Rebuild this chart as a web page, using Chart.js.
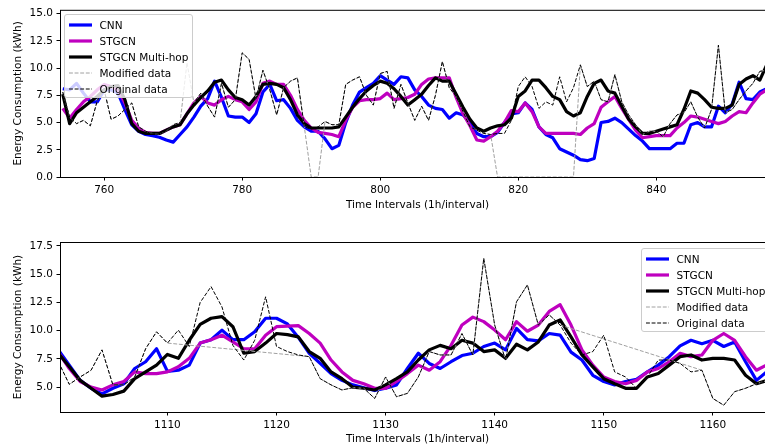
<!DOCTYPE html>
<html lang="en">
<head>
<meta charset="UTF-8">
<title>Energy consumption forecasts</title>
<script src="https://cdn.jsdelivr.net/npm/chart.js"></script>
<style>
  html, body { margin: 0; padding: 0; width: 765px; height: 448px; overflow: hidden; background: #fff; }
  .panel { position: absolute; left: 0; }
  #topPanel { top: 0; }
  #bottomPanel { top: 220px; }
  .legend {
    position: absolute; box-sizing: border-box; height: 84px; padding-top: 1.5px;
    background: rgba(255, 255, 255, 0.8); border: 1px solid #ccc; border-radius: 3px;
    font: 10.5px "DejaVu Sans", sans-serif; color: #000; white-space: nowrap; z-index: 2;
  }
  .legend .row { height: 16px; display: flex; align-items: center; }
  .legend svg { margin-left: 4px; margin-right: 7.5px; flex: none; }
  #topLegend { left: 64px; top: 14px; width: 129px; }
  #bottomLegend { left: 641px; top: 248px; width: 140px; }
</style>
</head>
<body>
<div class="panel" id="topPanel"><canvas id="topChart" width="775" height="220"></canvas></div>
<div class="panel" id="bottomPanel"><canvas id="bottomChart" width="775" height="228"></canvas></div>
<div class="legend" id="topLegend"></div>
<div class="legend" id="bottomLegend"></div>

<script>
// ---- data ----
function hourRange(first, last) {
    const out = [];
    for (let h = first; h <= last; h++) out.push(h);
    return out;
}

// upper panel: hours 754..856
const topHours = hourRange(754, 856);
const topCnn = [
    8.1, 8.0, 8.6, 7.7, 6.9, 6.9, 8.0, 8.0, 7.7, 6.2,
    4.8, 4.2, 3.9, 3.8, 3.65, 3.4, 3.2, 3.9, 4.6, 5.5,
    6.5, 7.2, 8.8, 7.3, 5.6, 5.5, 5.5, 5.0, 5.8, 7.8,
    8.5, 7.0, 7.1, 6.3, 5.2, 4.6, 4.2, 4.2, 3.5, 2.6,
    2.9, 5.0, 6.6, 7.8, 8.2, 8.6, 9.3, 8.9, 8.5, 9.2,
    9.1, 8.0, 7.4, 6.6, 6.3, 6.2, 5.4, 5.9, 5.7, 5.0,
    4.0, 3.7, 3.7, 4.1, 5.0, 5.8, 5.9, 6.8, 6.2, 4.6,
    3.9, 3.6, 2.6, 2.3, 2.0, 1.6, 1.5, 1.7, 5.0, 5.1,
    5.4, 5.0, 4.4, 3.8, 3.3, 2.6, 2.6, 2.6, 2.6, 3.1,
    3.1, 4.8, 5.0, 4.6, 4.6, 6.5, 5.9, 6.7, 8.7, 7.2,
    7.1, 7.8, 8.1
];
const topStgcn = [
    6.3, 5.4, 6.2, 6.9, 7.4, 8.0, 8.5, 8.3, 8.0, 6.8,
    5.2, 4.5, 4.1, 4.0, 4.0, 4.3, 4.6, 4.8, 5.8, 6.8,
    7.4, 6.8, 6.6, 7.1, 7.4, 7.1, 6.9, 6.2, 6.9, 8.6,
    8.8, 8.5, 8.5, 7.5, 6.2, 5.2, 4.5, 4.1, 4.0, 3.9,
    3.7, 5.2, 6.4, 7.0, 7.1, 7.1, 7.2, 7.7, 7.1, 7.2,
    7.3, 7.6, 8.5, 9.0, 9.1, 9.1, 9.1, 7.3, 5.8, 4.7,
    3.4, 3.3, 3.7, 4.2, 5.0, 6.1, 6.0, 6.8, 6.0, 4.6,
    4.0, 4.0, 4.0, 4.0, 4.0, 3.9, 4.5, 4.9, 6.4, 6.9,
    7.4, 6.3, 5.3, 4.3, 3.6, 3.7, 3.8, 3.8, 3.8, 4.5,
    5.0, 5.6, 5.5, 5.3, 5.1, 4.9, 5.1, 5.6, 6.0, 5.9,
    6.8, 7.6, 8.0
];
const topMultiHop = [
    7.6, 4.9, 5.9, 6.4, 6.9, 7.4, 8.0, 8.3, 8.4, 7.1,
    4.9, 4.2, 4.0, 4.0, 4.0, 4.3, 4.6, 4.8, 5.8, 6.6,
    7.3, 7.9, 8.7, 8.9, 8.0, 7.3, 7.1, 6.6, 7.4, 8.5,
    8.6, 8.5, 8.2, 7.1, 5.7, 4.9, 4.5, 4.5, 4.5, 4.5,
    4.6, 5.5, 6.4, 7.2, 7.9, 8.4, 8.8, 8.6, 8.1, 7.4,
    6.6, 7.1, 7.6, 8.4, 9.1, 8.8, 8.8, 7.6, 6.4, 5.3,
    4.5, 4.2, 4.5, 4.7, 4.8, 5.4, 7.4, 7.9, 8.9, 8.9,
    8.2, 7.4, 7.1, 6.0, 5.6, 5.9, 7.4, 8.6, 8.9, 7.9,
    7.7, 6.5, 5.3, 4.6, 4.0, 4.0, 4.2, 4.4, 4.6, 4.8,
    6.2, 7.9, 7.7, 7.1, 6.4, 6.3, 6.3, 6.6, 8.5, 9.0,
    9.3, 8.9, 10.3
];
const topModified = [
    7.8, 5.5, 4.9, 5.2, 4.7, 7.0, 8.0, 5.3, 5.6, 6.2,
    6.8, 4.6, 4.2, 4.0, 3.9, 4.2, 4.8, 5.0, 10.5, 6.8,
    7.7, 6.5, 5.5, 8.6, 6.4, 7.1, 11.4, 10.8, 7.2, 9.8,
    8.0, 5.7, 8.2, 8.8, 9.1, 4.6, 0, 0, 5.1, 4.8,
    4.8, 8.5, 8.9, 9.2, 7.5, 6.6, 9.5, 9.7, 6.3, 8.5,
    6.8, 5.2, 6.5, 5.2, 7.5, 10.6, 8.2, 7.4, 6.0, 4.6,
    4.3, 4.0, 3.9, 0, 0, 0, 0, 0, 0, 0,
    0, 0, 0, 0, 0, 10.3, 8.3, 8.8, 7.1, 6.9,
    9.4, 6.9, 5.7, 4.8, 3.9, 4.2, 4.2, 3.7, 4.9, 5.7,
    5.9, 6.9, 5.5, 4.5, 6.2, 12.1, 5.9, 6.2, 7.1, 7.9,
    8.6, 9.7, 9.8
];
const topOriginal = [
    7.8, 5.5, 4.9, 5.2, 4.7, 7.0, 8.0, 5.3, 5.6, 6.2,
    6.8, 4.6, 4.2, 4.0, 3.9, 4.2, 4.8, 5.0, 5.8, 6.8,
    7.7, 6.5, 5.5, 8.6, 6.4, 7.1, 11.4, 10.8, 7.2, 9.8,
    8.0, 5.7, 8.2, 8.8, 9.1, 4.6, 4.4, 4.6, 5.1, 4.8,
    4.8, 8.5, 8.9, 9.2, 7.5, 6.6, 9.5, 9.7, 6.3, 8.5,
    6.8, 5.2, 6.5, 5.2, 7.5, 10.6, 8.2, 7.4, 6.0, 4.6,
    4.3, 4.0, 3.9, 4.0, 4.0, 5.2, 8.3, 9.2, 8.3, 6.3,
    6.9, 6.6, 9.2, 6.9, 8.2, 10.3, 8.3, 8.8, 7.1, 6.9,
    9.4, 6.9, 5.7, 4.8, 3.9, 4.2, 4.2, 3.7, 4.9, 5.7,
    5.9, 6.9, 5.5, 4.5, 6.2, 12.1, 5.9, 6.2, 7.1, 7.9,
    8.6, 9.7, 9.8
];

// lower panel: hours 1100..1165
const bottomHours = hourRange(1100, 1165);
const bottomCnn = [
    8.3, 6.95, 5.6, 4.9, 4.4, 4.9, 5.3, 6.65, 7.25, 8.4,
    6.4, 6.5, 6.95, 8.9, 9.2, 10.05, 9.2, 9.2, 9.9, 11.1,
    11.1, 10.6, 9.4, 8.0, 7.1, 6.2, 5.6, 5.2, 4.95, 4.7,
    4.9, 5.2, 6.65, 8.0, 7.1, 6.65, 7.25, 7.8, 8.0, 8.6,
    8.9, 8.3, 10.2, 9.2, 9.1, 9.75, 9.6, 8.1, 7.4, 6.05,
    5.5, 5.2, 5.5, 5.7, 6.35, 6.95, 7.7, 8.65, 9.15, 8.85,
    9.15, 8.6, 9.0, 7.25, 5.6, 6.4
];
const bottomStgcn = [
    8.1, 6.65, 5.5, 5.0, 4.75, 5.2, 5.5, 6.35, 6.2, 6.2,
    6.35, 6.8, 7.55, 8.9, 9.2, 9.6, 9.0, 8.4, 8.4, 9.6,
    10.35, 10.4, 10.45, 9.75, 8.9, 7.4, 6.35, 5.6, 5.3, 4.9,
    4.9, 5.5, 6.2, 6.95, 6.5, 7.25, 8.7, 10.5, 11.2, 10.8,
    10.05, 9.2, 10.8, 9.95, 10.5, 11.7, 12.3, 10.5, 8.3, 6.95,
    5.9, 5.5, 5.3, 5.6, 6.35, 6.65, 7.25, 8.0, 7.7, 7.85,
    9.15, 9.75, 9.15, 7.7, 6.5, 7.0
];
const bottomMultiHop = [
    8.0, 6.8, 5.6, 4.9, 4.2, 4.35, 4.65, 5.75, 6.35, 6.95,
    7.9, 7.55, 9.15, 10.55, 11.1, 11.25, 10.35, 8.0, 8.15, 8.9,
    9.75, 9.65, 9.45, 8.15, 7.55, 6.35, 5.75, 5.0, 4.9, 4.75,
    5.2, 5.75, 6.35, 7.4, 8.3, 8.7, 8.4, 9.15, 8.9, 8.15,
    8.3, 7.55, 8.8, 8.3, 9.0, 10.5, 10.95, 9.45, 7.85, 6.8,
    5.75, 5.3, 4.9, 4.9, 5.9, 6.2, 6.95, 7.7, 7.85, 7.4,
    7.55, 7.55, 7.4, 6.05, 5.3, 5.6
];
// null = hours missing in the modified data (the line just joins across)
const bottomModified = [
    7.25, 5.25, 5.9, 6.5, 8.3, 5.2, 5.2, 5.9, 8.4, 9.9,
    8.9, null, null, null, null, null, null, null, null, null,
    null, null, null, 7.7, 5.75, 5.2, 4.75, 4.95, 4.9, 4.0,
    5.9, 4.15, 4.45, 5.9, 8.15, 7.85, 7.85, 9.75, 7.85, 16.4,
    10.5, 7.4, 12.55, 14.05, 10.5, 11.4, 10.5, null, null, null,
    null, null, null, null, null, null, null, null, null, 6.5,
    4.0, 3.4, 4.6, 4.9, 5.3, 5.6
];
const bottomOriginal = [
    7.25, 5.25, 5.9, 6.5, 8.3, 5.2, 5.2, 5.9, 8.4, 9.9,
    8.9, 10.05, 8.6, 12.5, 13.9, 12.1, 8.7, 7.4, 9.15, 13.0,
    8.6, 8.15, 7.85, 7.7, 5.75, 5.2, 4.75, 4.95, 4.9, 4.0,
    5.9, 4.15, 4.45, 5.9, 8.15, 7.85, 7.85, 9.75, 7.85, 16.4,
    10.5, 7.4, 12.55, 14.05, 10.5, 11.4, 10.5, 8.9, 7.85, 8.15,
    9.6, 6.35, 5.9, 4.9, 5.9, 7.4, 7.4, 7.1, 6.35, 6.5,
    4.0, 3.4, 4.6, 4.9, 5.3, 5.6
];

// ---- styles ----
Chart.defaults.font.family = '"DejaVu Sans", sans-serif';
Chart.defaults.font.size = 10.5;
Chart.defaults.color = '#000';

const styles = [
    { label: 'CNN',             color: '#0000ff', width: 3.2, dash: [] },
    { label: 'STGCN',           color: '#bf00bf', width: 3.2, dash: [] },
    { label: 'STGCN Multi-hop', color: '#000000', width: 3.2, dash: [] },
    { label: 'Modified data',   color: '#a0a0a0', width: 1,   dash: [3.9, 1.7] },
    { label: 'Original data',   color: '#000000', width: 1,   dash: [3.9, 1.7] }
];

// matplotlib-like box around the plot area
const axesFrame = {
    id: 'axesFrame',
    afterDatasetsDraw(chart) {
        const { ctx, chartArea: a } = chart;
        ctx.save();
        ctx.strokeStyle = '#000';
        ctx.lineWidth = 1;
        ctx.strokeRect(a.left + 0.5, a.top + 0.5, a.right - a.left, a.bottom - a.top);
        ctx.restore();
    }
};

function makePanel(canvasId, legendId, hours, series, cfg) {
    const datasets = series.map((values, i) => ({
        label: styles[i].label,
        data: values,
        borderColor: styles[i].color,
        backgroundColor: styles[i].color,
        borderWidth: styles[i].width,
        borderDash: styles[i].dash,
        spanGaps: true,
        order: series.length - 1 - i
    }));

    const chart = new Chart(document.getElementById(canvasId), {
        type: 'line',
        data: { labels: hours, datasets: datasets },
        options: {
            responsive: false,
            animation: false,
            devicePixelRatio: 1,
            layout: { padding: { top: cfg.padTop, left: 0, right: 0, bottom: 0 } },
            elements: {
                point: { radius: 0 },
                line: { tension: 0, borderJoinStyle: 'round', borderCapStyle: 'butt' }
            },
            plugins: { legend: { display: false }, tooltip: { enabled: false } },
            scales: {
                x: {
                    type: 'linear',
                    min: cfg.xMin,
                    max: cfg.xMax,
                    border: { display: false },
                    grid: { drawOnChartArea: false, color: '#000', lineWidth: 1, tickLength: 3.5 },
                    ticks: {
                        stepSize: cfg.xStep, includeBounds: false, padding: 3.5,
                        maxRotation: 0, autoSkip: false,
                        callback: v => String(v)
                    },
                    title: {
                        display: true, text: 'Time Intervals (1h/interval)',
                        padding: { top: 0, bottom: cfg.xTitlePad }
                    },
                    afterFit: scale => { scale.height = cfg.xHeight; }
                },
                y: {
                    min: cfg.yMin,
                    max: cfg.yMax,
                    border: { display: false },
                    grid: { drawOnChartArea: false, color: '#000', lineWidth: 1, tickLength: 3.5 },
                    ticks: {
                        stepSize: 2.5, includeBounds: false, padding: 3.5,
                        callback: v => v.toFixed(1)
                    },
                    title: {
                        display: true, text: 'Energy Consumption (kWh)',
                        padding: { top: 12, bottom: 0 }
                    },
                    afterFit: scale => { scale.width = 60; }
                }
            }
        },
        plugins: [axesFrame]
    });

    // legend as html, built from the datasets
    const box = document.getElementById(legendId);
    chart.data.datasets.forEach(ds => {
        const row = document.createElement('div');
        row.className = 'row';
        row.innerHTML =
            '<svg width="23" height="6"><line x1="0" y1="3" x2="23" y2="3" stroke="' + ds.borderColor +
            '" stroke-width="' + ds.borderWidth + '" stroke-dasharray="' + ds.borderDash.join(' ') +
            '"/></svg><span>' + ds.label + '</span>';
        box.appendChild(row);
    });
    return chart;
}

makePanel('topChart', 'topLegend', topHours,
    [topCnn, topStgcn, topMultiHop, topModified, topOriginal],
    { padTop: 9, xMin: 753.6, xMax: 857.2, xStep: 20, yMin: 0, yMax: 15.35, xHeight: 43, xTitlePad: 8.7 });

makePanel('bottomChart', 'bottomLegend', bottomHours,
    [bottomCnn, bottomStgcn, bottomMultiHop, bottomModified, bottomOriginal],
    { padTop: 22, xMin: 1100.15, xMax: 1165.7, xStep: 10, yMin: 2.8, yMax: 17.85, xHeight: 36, xTitlePad: 2.7 });
</script>
</body>
</html>
